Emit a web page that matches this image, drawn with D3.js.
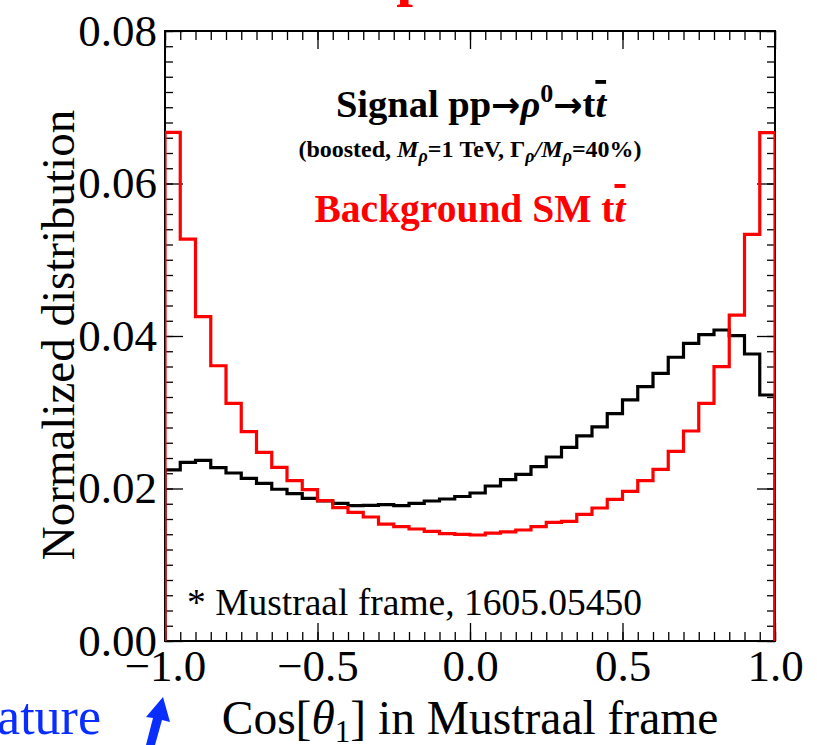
<!DOCTYPE html>
<html><head><meta charset="utf-8">
<script src="https://cdn.jsdelivr.net/npm/d3@7"></script>
<style>
body{margin:0;background:#fff;}
svg text{font-family:"Liberation Serif","Times New Roman",serif;}
</style>
</head><body>
<svg id="chart" width="817" height="745"></svg>
<script>
// ---- data ----
const binStart = -1.0;
const binWidth = 0.05;
const signal = [0.02243,0.02343,0.0237,0.02273,0.02203,0.02133,0.02068,0.0199,0.01932,0.01871,
                0.01836,0.01806,0.01775,0.0178,0.01788,0.01775,0.01806,0.01836,0.01862,0.01895,
                0.01941,0.02033,0.02116,0.02186,0.02286,0.02413,0.0254,0.02689,0.02807,0.02981,
                0.03161,0.03335,0.03511,0.03721,0.03904,0.04017,0.04079,0.04004,0.03764,0.03226];
const background = [0.0667,0.0527,0.04253,0.0361,0.03117,0.02745,0.02474,0.02278,0.02103,0.01985,
                    0.0184,0.01748,0.01688,0.01626,0.01534,0.01499,0.01469,0.01439,0.01408,0.01399,
                    0.0139,0.01416,0.0143,0.01456,0.01499,0.01556,0.0157,0.01661,0.01744,0.01858,
                    0.01963,0.02103,0.02252,0.02488,0.02754,0.03117,0.03598,0.04275,0.05333,0.06667];
const xTicks = [-1, -0.5, 0, 0.5, 1];
const xTickLabels = ["\u22121.0", "\u22120.5", "0.0", "0.5", "1.0"];
const yTicks = [0, 0.02, 0.04, 0.06, 0.08];
const yTickLabels = ["0.00", "0.02", "0.04", "0.06", "0.08"];
const xMinorStep = 0.05;
const yMinorStep = 0.002;

// ---- layout ----
const L = 165, R = 775, T = 31, B = 641;
const svg = d3.select("#chart");
const x = d3.scaleLinear().domain([-1, 1]).range([L, R]);
const y = d3.scaleLinear().domain([0, 0.08]).range([B, T]);
const SERIF = '"Liberation Serif","Times New Roman",serif';

svg.append("defs").append("clipPath").attr("id", "plotclip")
  .append("rect").attr("x", L).attr("y", T).attr("width", R - L).attr("height", B - T);

// ---- histograms ----
function stepPoints(vals) {
  const pts = [[binStart, 0]];
  vals.forEach((v, i) => pts.push([binStart + i * binWidth, v]));
  pts.push([binStart + vals.length * binWidth, vals[vals.length - 1]]);
  pts.push([binStart + vals.length * binWidth, 0]);
  return pts;
}
const line = d3.line().x(d => x(d[0])).y(d => y(d[1])).curve(d3.curveStepAfter);

// ---- axes / ticks ----
const xMinor = d3.range(0, 41).map(i => -1 + i * xMinorStep);
const yMinor = d3.range(0, 41).map(i => i * yMinorStep);

function styleAxis(g) {
  g.select(".domain").remove();
  g.selectAll(".tick line").attr("stroke", "#000").attr("stroke-width", 1.3);
  g.selectAll(".tick text").attr("fill", "#000")
    .style("font-family", SERIF).style("font-size", "45px");
}

svg.append("g").attr("transform", `translate(0,${B})`)
  .call(d3.axisBottom(x).tickValues(xMinor).tickSize(-9).tickFormat("")).call(styleAxis);
svg.append("g").attr("transform", `translate(0,${B})`)
  .call(d3.axisBottom(x).tickValues(xTicks).tickSize(-18).tickPadding(8)
        .tickFormat((d, i) => xTickLabels[i])).call(styleAxis);
svg.append("g").attr("transform", `translate(0,${T})`)
  .call(d3.axisTop(x).tickValues(xMinor).tickSize(-9).tickFormat("")).call(styleAxis);
svg.append("g").attr("transform", `translate(0,${T})`)
  .call(d3.axisTop(x).tickValues(xTicks).tickSize(-18).tickFormat("")).call(styleAxis);

svg.append("g").attr("transform", `translate(${L},0)`)
  .call(d3.axisLeft(y).tickValues(yMinor).tickSize(-8).tickFormat("")).call(styleAxis);
svg.append("g").attr("transform", `translate(${L},0)`)
  .call(d3.axisLeft(y).tickValues(yTicks).tickSize(-18).tickPadding(8)
        .tickFormat((d, i) => yTickLabels[i])).call(styleAxis);
svg.append("g").attr("transform", `translate(${R},0)`)
  .call(d3.axisRight(y).tickValues(yMinor).tickSize(-8).tickFormat("")).call(styleAxis);
svg.append("g").attr("transform", `translate(${R},0)`)
  .call(d3.axisRight(y).tickValues(yTicks).tickSize(-18).tickFormat("")).call(styleAxis);

// frame
svg.append("rect").attr("x", L).attr("y", T).attr("width", R - L).attr("height", B - T)
  .attr("fill", "none").attr("stroke", "#000").attr("stroke-width", 2);

const plot = svg.append("g").attr("clip-path", "url(#plotclip)");
plot.append("path").attr("d", line(stepPoints(signal)))
  .attr("fill", "none").attr("stroke", "#000").attr("stroke-width", 3.2);
plot.append("path").attr("d", line(stepPoints(background)))
  .attr("fill", "none").attr("stroke", "#ff0000").attr("stroke-width", 3.2);

// ---- texts ----
// clipped red title fragment at very top
svg.append("text").attr("x", 413).attr("y", -6).attr("text-anchor", "middle")
  .attr("fill", "#ff0000").style("font-size", "60px").style("font-weight", "bold").text("p");

// signal label
const ARROW = '"DejaVu Sans",sans-serif';
const t1 = svg.append("text").attr("x", 471).attr("y", 117).attr("text-anchor", "middle")
  .style("font-size", "38.5px").style("font-weight", "bold").attr("fill", "#000");
t1.append("tspan").text("Signal pp");
t1.append("tspan").style("font-family", ARROW).style("font-size", "35px").text("\u2192");
t1.append("tspan").style("font-style", "italic").text("\u03C1");
t1.append("tspan").attr("dy", -15).style("font-size", "26px").text("0");
t1.append("tspan").attr("dy", 15).style("font-family", ARROW).style("font-size", "35px").text("\u2192");
t1.append("tspan").text("t");
t1.append("tspan").style("font-style", "italic").style("text-decoration", "overline").text("t");

const t2 = svg.append("text").attr("x", 470).attr("y", 157).attr("text-anchor", "middle")
  .style("font-size", "24px").style("font-weight", "bold").attr("fill", "#000");
t2.append("tspan").text("(boosted, ");
t2.append("tspan").style("font-style", "italic").text("M");
t2.append("tspan").attr("dy", 5).style("font-style", "italic").style("font-size", "18px").text("\u03C1");
t2.append("tspan").attr("dy", -5).text("=1 TeV, \u0393");
t2.append("tspan").attr("dy", 5).style("font-style", "italic").style("font-size", "18px").text("\u03C1");
t2.append("tspan").attr("dy", -5).style("font-style", "italic").text("/M");
t2.append("tspan").attr("dy", 5).style("font-style", "italic").style("font-size", "18px").text("\u03C1");
t2.append("tspan").attr("dy", -5).text("=40%)");

const t3 = svg.append("text").attr("x", 470).attr("y", 222).attr("text-anchor", "middle")
  .style("font-size", "39.5px").style("font-weight", "bold").attr("fill", "#ff0000");
t3.append("tspan").text("Background SM t");
t3.append("tspan").style("font-style", "italic").style("text-decoration", "overline").text("t");

svg.append("text").attr("x", 187).attr("y", 615).style("font-size", "37.5px").attr("fill", "#000")
  .text("* Mustraal frame, 1605.05450");

// y label
svg.append("text").attr("transform", "translate(74,335) rotate(-90)").attr("text-anchor", "middle")
  .style("font-size", "47px").attr("fill", "#000").text("Normalized distribution");

// x label
const xl = svg.append("text").attr("x", 470).attr("y", 734).attr("text-anchor", "middle")
  .style("font-size", "47.5px").attr("fill", "#000");
xl.append("tspan").text("Cos[");
xl.append("tspan").style("font-style", "italic").text("\u03B8");
xl.append("tspan").attr("dy", 8).style("font-size", "31px").text("1");
xl.append("tspan").attr("dy", -8).text("] in Mustraal frame");

// blue fragment + arrow
svg.append("text").attr("x", 101).attr("y", 734).attr("text-anchor", "end")
  .style("font-size", "52px").attr("fill", "#0a2dff").text("feature");
svg.append("path")
  .attr("d", "M146,745 L153,718 L146,717 L163,697 L170,722 L162,720 L155,745 Z")
  .attr("fill", "#0a2dff");
</script>
</body></html>
